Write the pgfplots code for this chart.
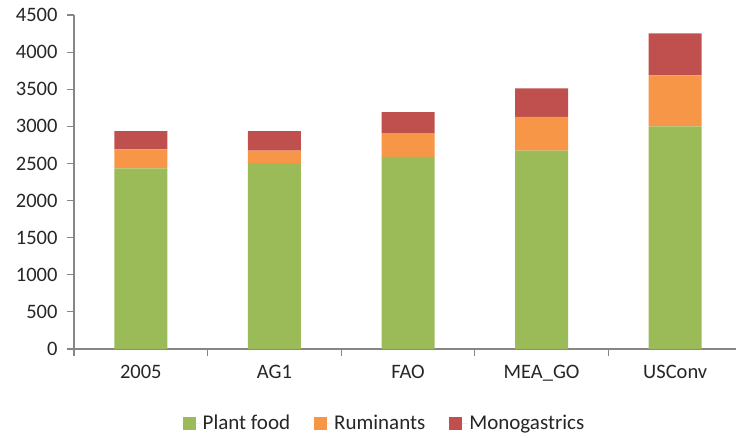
\documentclass[border=0pt]{standalone}
\usepackage{fontspec}
\setmainfont{Carlito}
\usepackage{pgfplots}
\pgfplotsset{compat=1.18}
\definecolor{cgreen}{HTML}{9BBB59}
\definecolor{corange}{HTML}{F79646}
\definecolor{cred}{HTML}{C0504D}
\definecolor{axgray}{HTML}{868686}
\begin{document}
\begin{tikzpicture}
\begin{axis}[
  scale only axis,
  width=668pt, height=334pt,
  xmin=-0.5, xmax=4.5,
  ymin=0, ymax=4500,
  ybar stacked, bar width=53pt,
  axis x line*=bottom, axis y line*=left,
  axis line style={draw=axgray, line width=1.2pt},
  every outer x axis line/.append style={-},
  every outer y axis line/.append style={-},
  ytick={0,500,...,4500},
  xtick={-0.5,0.5,1.5,2.5,3.5},
  xticklabels={},
  extra x ticks={0,1,2,3,4},
  extra x tick labels={2005,AG1,FAO,MEA\_GO,USConv},
  extra x tick style={major tick length=0pt, tick label style={yshift=-13pt}},
  tick style={draw=axgray, line width=1.2pt},
  major tick length=7pt,
  xtick align=outside, ytick align=outside,
  /pgf/number format/assume math mode=true,
  /pgf/number format/1000 sep={},
  tick label style={font=\fontsize{20.5}{24}\selectfont, text=black!85},
  yticklabel style={xshift=-6pt},
  legend style={draw=none, fill=none, font=\fontsize{21}{25}\selectfont, text=black!85, at={(0.4648,-0.2216)}, anchor=center, legend columns=3, /tikz/every even column/.append style={column sep=22pt}},
  legend image code/.code={\path (0pt,0pt) -- (18pt,0pt); \fill[#1,draw=none] (0pt,-6.5pt) rectangle (13pt,6.5pt);},
  clip=false,
]
\addplot[fill=cgreen, draw=none] coordinates {(0,2435) (1,2503) (2,2588) (3,2673) (4,3001)};
\addplot[fill=corange, draw=none] coordinates {(0,256) (1,170) (2,319) (3,454) (4,687)};
\addplot[fill=cred, draw=none] coordinates {(0,243) (1,261) (2,283) (3,386) (4,566)};
\legend{Plant food, Ruminants, Monogastrics}
\coordinate (o) at (rel axis cs:0,0);
\end{axis}
\pgfresetboundingbox
\path[use as bounding box] ([shift={(-74pt,-88pt)}]o) rectangle ([shift={(662pt,349pt)}]o);
\end{tikzpicture}
\end{document}
